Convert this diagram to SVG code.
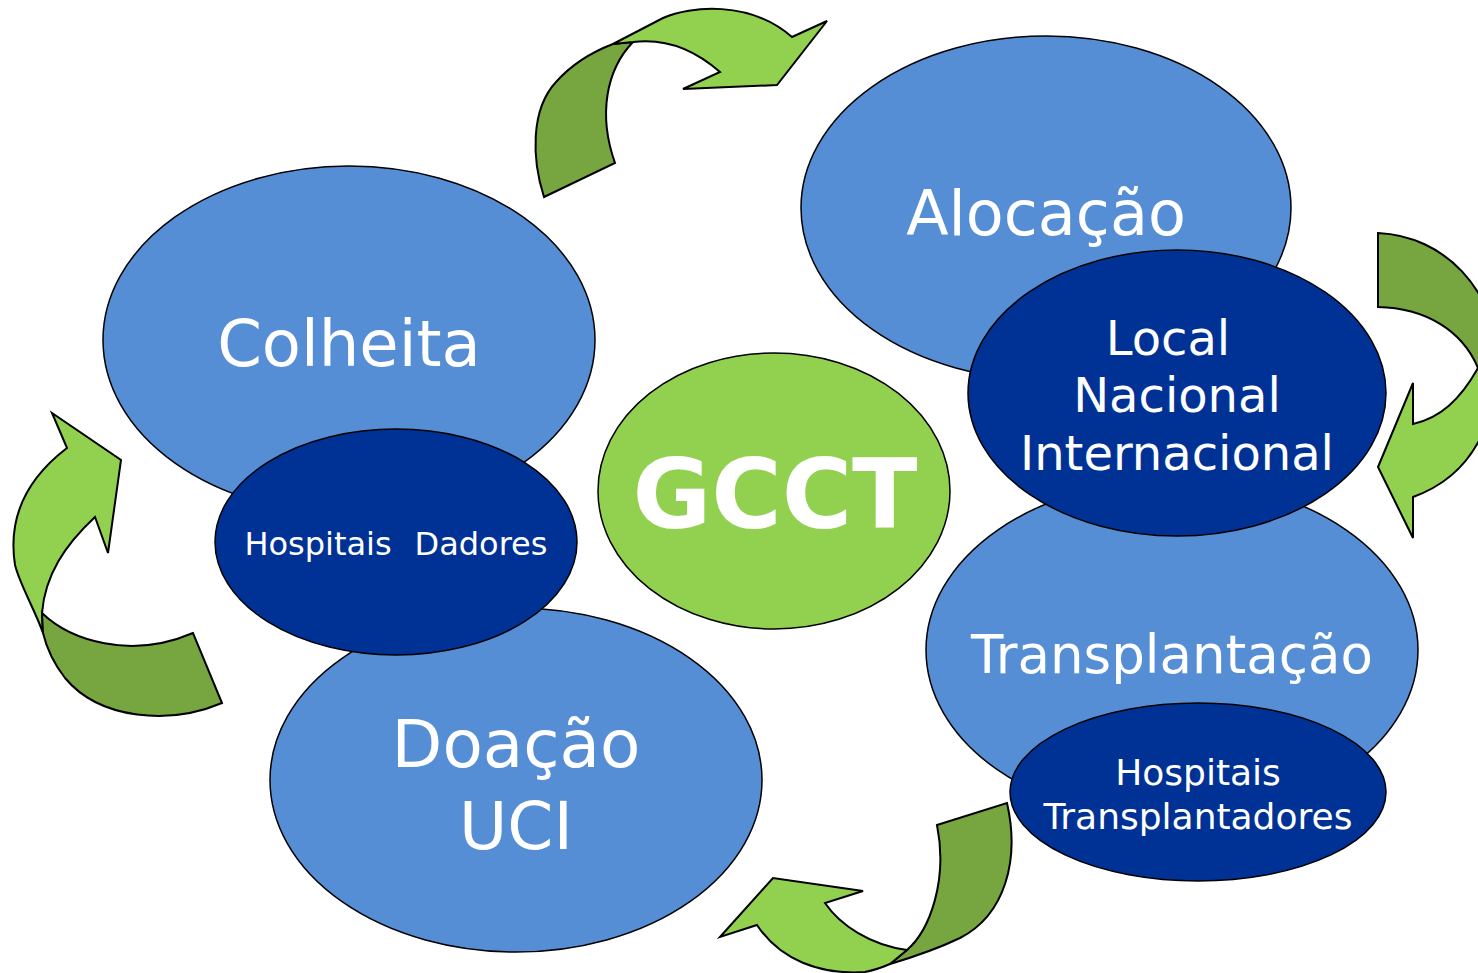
<svg xmlns="http://www.w3.org/2000/svg" width="1478" height="973" viewBox="0 0 1478 973">
<style>
.lb{fill:#558ED5;stroke:#000;stroke-width:1.5}
.db{fill:#003296;stroke:#000;stroke-width:1.5}
.gr{fill:#92D050;stroke:#000;stroke-width:1.5}
.ag{fill:#92D050;stroke:#000;stroke-width:2;stroke-linejoin:miter}
.ad{fill:#77A641;stroke:#000;stroke-width:2;stroke-linejoin:miter}
text{font-family:"DejaVu Sans",Verdana,sans-serif;fill:#fff;text-anchor:middle}
</style>
<rect width="1478" height="973" fill="#fff"/>
<g id="connectors">
  <g id="arrow-top">
    <path class="ad" d="M544,197 C532,160 530,110 556,82 C572,64 592,52 613,44 L633,42 C606,70 598,115 615,163 Z"/>
    <path class="ag" d="M613,44 L663,18 C690,6 750,0 792,37 L827,21 L777,85 L683,89 L720,72 C695,50 665,38 633,42 Z"/>
  </g>
  <g id="arrow-right">
    <path class="ad" d="M1378,233 C1445,236 1495,290 1498,360 L1478,368 C1462,330 1425,308 1378,307 Z"/>
    <path class="ag" d="M1478,368 C1460,400 1440,418 1413,424 L1413,383 L1378,467 L1413,538 L1413,497 C1460,480 1495,440 1498,360 Z"/>
  </g>
  <g id="arrow-bottom">
    <path class="ad" d="M937,825 L1007,803 C1020,860 1005,915 960,938 C935,950 910,958 890,964 L907,950 C930,930 948,880 937,825 Z"/>
    <path class="ag" d="M907,950 C870,945 840,925 825,903 L863,891 L773,878 L720,937 L757,925 C780,960 820,975 865,972 C875,970 883,967 890,964 Z"/>
  </g>
  <g id="arrow-left">
    <path class="ag" d="M52,413 L121,460 L108,553 L95,517 C65,545 45,575 42,613 L43,633 C35,610 20,585 15,565 C8,520 25,480 67,448 Z"/>
    <path class="ad" d="M42,613 C70,640 130,660 193,633 L222,703 C170,725 100,720 65,678 C55,665 47,650 43,633 Z"/>
  </g>
</g>
<g id="node-alocacao">
  <ellipse class="lb" cx="1046" cy="208" rx="245" ry="172"/>
  <text x="1046" y="235" font-size="62">Alocação</text>
</g>
<g id="node-transplantacao">
  <ellipse class="lb" cx="1172" cy="650" rx="246" ry="170"/>
  <text x="1172" y="673" font-size="53">Transplantação</text>
</g>
<g id="node-local">
  <ellipse class="db" cx="1177" cy="393" rx="209" ry="143"/>
  <text x="1168" y="355" font-size="48">Local</text>
  <text x="1177" y="412" font-size="48">Nacional</text>
  <text x="1177" y="470" font-size="48">Internacional</text>
</g>
<g id="node-hospitais-transplantadores">
  <ellipse class="db" cx="1198" cy="792" rx="188" ry="89"/>
  <text x="1198" y="785" font-size="36">Hospitais</text>
  <text x="1198" y="829" font-size="36">Transplantadores</text>
</g>
<g id="node-colheita">
  <ellipse class="lb" cx="349" cy="340" rx="246" ry="174"/>
  <text x="349" y="366" font-size="64">Colheita</text>
</g>
<g id="node-doacao">
  <ellipse class="lb" cx="516" cy="780" rx="246" ry="172"/>
  <text x="516" y="767" font-size="66">Doação</text>
  <text x="516" y="849" font-size="66">UCI</text>
</g>
<g id="node-hospitais-dadores">
  <ellipse class="db" cx="396" cy="542" rx="181" ry="113"/>
  <text x="318" y="555" font-size="32">Hospitais</text>
  <text x="481" y="555" font-size="32">Dadores</text>
</g>
<g id="node-gcct">
  <ellipse class="gr" cx="774" cy="491" rx="176" ry="138"/>
  <text x="775" y="528" font-size="96" font-weight="bold">GCCT</text>
</g>
</svg>
